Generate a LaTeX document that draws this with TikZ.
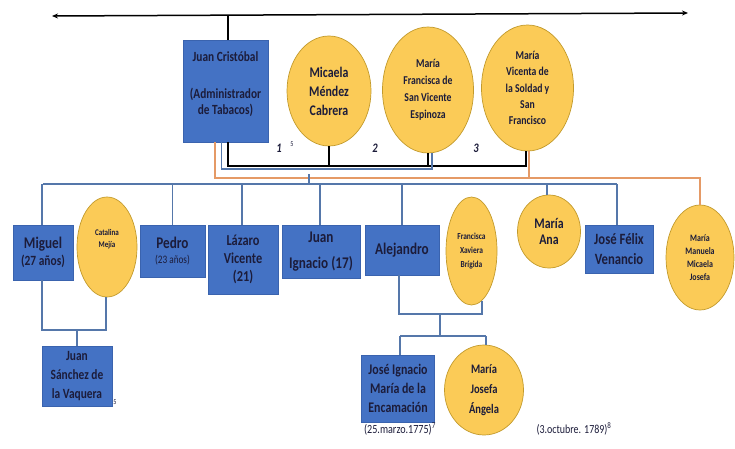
\documentclass[tikz,border=0pt]{standalone}
\usepackage{fontspec}
\setmainfont{Carlito}[FakeStretch=0.81]
\usetikzlibrary{shapes.geometric,arrows.meta}
\definecolor{boxblue}{HTML}{4472C4}
\definecolor{boxedge}{HTML}{3A63AE}
\definecolor{gold}{HTML}{FBCB57}
\definecolor{goldedge}{HTML}{C29A2C}
\definecolor{ink}{HTML}{1C1C3A}
\definecolor{linkblue}{HTML}{5577AA}
\definecolor{linkorange}{HTML}{E59A66}

\begin{document}
\begin{tikzpicture}[x=1pt,y=-1pt,
  person/.style={rectangle, fill=boxblue, draw=boxedge, line width=0.6pt,
    inner sep=1pt, align=center, text=ink},
  spouse/.style={ellipse, fill=gold, draw=goldedge, line width=0.7pt,
    inner sep=0pt, align=center, text=ink},
  wd/.style 2 args={minimum width=#1, minimum height=#2},
  fnt/.style 2 args={font=\fontsize{#1}{#2}\selectfont\bfseries},
  plain/.style 2 args={font=\fontsize{#1}{#2}\selectfont},
  label text/.style={text=ink, align=center, inner sep=0pt},
  kin/.style={draw=linkblue, line width=1.2pt},
  wed/.style={draw=black, line width=1.3pt},
  wedorange/.style={draw=linkorange, line width=1.2pt},
  timeline/.style={draw=black, line width=1.5pt,
    {Stealth[length=6pt,width=5pt]}-{Stealth[length=6pt,width=5pt]}},
  marknum/.style={text=ink, inner sep=0pt, font=\fontsize{13}{15}\selectfont\bfseries\itshape},
]
\useasboundingbox (0,0) rectangle (735,449);

% ---------- first generation ----------
\node[person, wd={85}{102}] (jc) at (225.5,91) {};
\node[label text, fnt={14}{16}] (jctext) at (225.5,84)
  {Juan Cristóbal\\[21pt](Administrador\\de Tabacos)};

\node[spouse, wd={84}{110}, fnt={14.7}{19}] (mic) at (329,91)
  {Micaela\\Méndez\\Cabrera};
\node[spouse, wd={91}{126}, fnt={12}{17}] (fra) at (428,90)
  {María\\Francisca de\\San Vicente\\Espinoza};
\node[spouse, wd={92}{126}, fnt={12}{16.3}] (viv) at (527.5,88)
  {María\\Vicenta de\\la Soldad y\\San\\Francisco};

% marriage numbers
\node[marknum] (n1) at (279,148) {1};
\node[label text, plain={7.5}{8}] (n1ref) at (292,144) {5};
\node[marknum] (n2) at (375,148) {2};
\node[marknum] (n3) at (476,148) {3};

% timeline
\coordinate (tl) at (52,16);
\coordinate (tr) at (688,13);
\coordinate (tj) at (228,15.2);
\draw[timeline] (tl) -- (tr);
\draw[wed] (tj) -- (tj |- jc.north);

% ---------- second generation ----------
\node[person, wd={60}{55}] (mig) at (43,252.5)
  {{\fontsize{16.3}{18}\selectfont\bfseries Miguel}\\[3pt]{\fontsize{14.1}{15}\selectfont\bfseries(27 años)}};
\node[spouse, wd={60}{100}] (cat) at (107,247) {};
\node[label text, fnt={8.7}{12}] (catname) at (107,239) {Catalina\\Mejía};
\node[person, wd={65}{52}] (ped) at (172.5,251)
  {{\fontsize{16.3}{18}\selectfont\bfseries Pedro}\\[3pt]{\fontsize{11.4}{12}\selectfont(23 años)}};
\node[person, wd={70}{69}, fnt={15.2}{18}] (laz) at (243,259.5)
  {Lázaro\\Vicente\\(21)};
\node[person, wd={78}{53}, fnt={16.3}{26}] (jui) at (321,251.5)
  {Juan\\Ignacio (17)};
\node[person, wd={74}{50}, fnt={16.3}{18}] (ale) at (402,250)
  {Alejandro};
\node[spouse, wd={51}{108}, fnt={9.2}{14}] (fx) at (471.5,251)
  {Francisca\\Xaviera\\Brígida};
\node[spouse, wd={63}{73}, fnt={14.7}{16.5}] (man) at (549,231.5)
  {María\\Ana};
\node[person, wd={68}{48}, fnt={15.7}{20}] (jf) at (619,249)
  {José Félix\\Venancio};
\node[spouse, wd={68}{105}, fnt={9.8}{12.8}] (mmj) at (700,257.5)
  {María\\Manuela\\Micaela\\Josefa};

% ---------- third generation ----------
\node[person, wd={70}{60}, fnt={14.1}{19}] (js) at (77,376)
  {Juan\\Sánchez de\\la Vaquera};
\node[label text, plain={7.5}{8}] (jsref) at (115,402) {5};
\node[person, wd={73}{67}, fnt={14.7}{19}] (ji) at (398,388.5)
  {José Ignacio\\María de la\\Encamación};
\node[spouse, wd={79}{90}, fnt={13}{20}] (mj) at (484,390)
  {María\\Josefa\\Ángela};
\node[label text, plain={12.5}{13}] (d1) at (400,429) {(25.marzo.1775)\textsuperscript{7}};
\node[label text, plain={12.3}{13}] (d2) at (574,429) {(3.octubre. 1789)\textsuperscript{8}};

% ---------- marriage connectors ----------
\coordinate (bk) at (0,166);
\coordinate (bl) at (0,169);
\coordinate (orl) at (0,178);
\draw[wed] ([xshift=2.5]jc.south) |- ([xshift=-1.5]viv.south |- bk) -- ([xshift=-1.5]viv.south);
\draw[wed] (mic.south) -- (mic.south |- bk);
\draw[wed] (fra.south) -- (fra.south |- bk);
\draw[kin] ([xshift=-4]jc.south) |- ([xshift=4]fra.south |- bl) -- ([xshift=4]fra.south);
\draw[wedorange] ([xshift=-10.5]jc.south) |- (mmj.north |- orl) -- (mmj.north);
\draw[wedorange] ([xshift=1.5]viv.south) -- ([xshift=1.5]viv.south |- orl);

% ---------- children of Juan Cristóbal ----------
\coordinate (bus) at (0,184);
\coordinate (drop) at (309,174);
\draw[kin] (drop) -- (drop |- bus);
\draw[kin] (mig.north |- bus) -- ([xshift=-2]jf.north |- bus);
\foreach \n/\dx in {mig/-1,ped/0,laz/-1,jui/-1,ale/0,man/-2,jf/-2}
  \draw[kin] ([xshift=\dx]\n.north |- bus) -- ([xshift=\dx]\n.north);

% ---------- Miguel and Catalina ----------
\coordinate (mc) at (0,330);
\draw[kin] ([xshift=-1]mig.south) |- ([xshift=-1]cat.south |- mc) -- ([xshift=-1]cat.south);
\draw[kin] (js.north |- mc) -- (js.north);

% ---------- Alejandro and Francisca ----------
\coordinate (af) at (0,314);
\coordinate (afm) at (440,314);
\coordinate (kb) at (0,336);
\draw[kin] ([xshift=-3]ale.south) |- (fx.-78 |- af) -- (fx.-78);
\draw[kin] (afm) -- (afm |- kb);
\draw[kin] ([xshift=2]ji.north |- kb) -- ([xshift=2]mj.north |- kb);
\draw[kin] ([xshift=2]ji.north |- kb) -- ([xshift=2]ji.north);
\draw[kin] ([xshift=2]mj.north |- kb) -- ([xshift=2]mj.north);
\end{tikzpicture}
\end{document}
